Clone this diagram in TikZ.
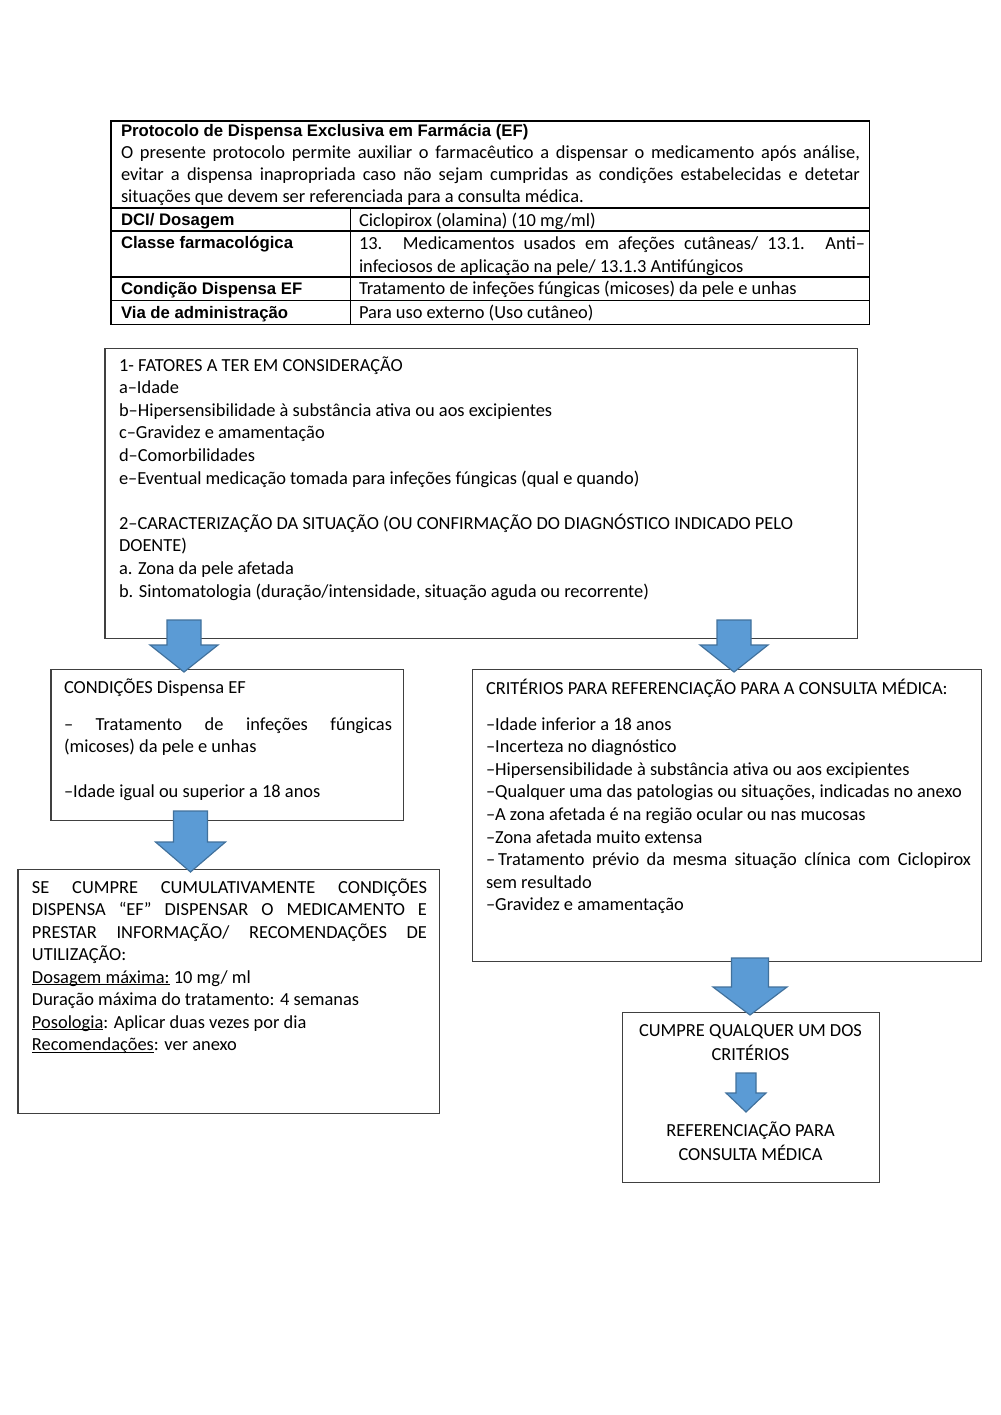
\documentclass[tikz,border=0pt]{standalone}
\usepackage{fontspec}
\setmainfont{Carlito}
\newfontfamily\arialfont{Liberation Sans}
\newlength\px \setlength\px{0.21mm}
\definecolor{arrowfill}{HTML}{5B9BD5}
\definecolor{arrowline}{HTML}{41719C}
\definecolor{boxline}{HTML}{404040}
\newcommand\J[1]{\makebox[\hsize][s]{#1}}
\newcommand\ulx[1]{\leavevmode\setbox0\hbox{#1}\rlap{\rule[-1.3pt]{\wd0}{0.45pt}}\box0\relax}
% width (px), baselineskip (px), content
\newcommand\tbox[3]{\vtop{\hsize=#1\px \parindent=0pt \raggedright
  \baselineskip=#2\px \lineskiplimit=-100pt \lineskip=0pt \parskip=0pt #3\par}}
\newcommand\tboxc[3]{\vtop{\hsize=#1\px \parindent=0pt \centering
  \baselineskip=#2\px \lineskiplimit=-100pt \lineskip=0pt \parskip=0pt #3\par}}
\newcommand\lab[1]{{\arialfont\bfseries\fontsize{10pt}{12pt}\selectfont #1}}
\newcommand\blockarrow[6]{% cx, top, half shaft, head y, half head, tip
  \filldraw[barrow] ({#1-#3},#2) -- ({#1+#3},#2) -- ({#1+#3},#4) -- ({#1+#5},#4)
    -- (#1,#6) -- ({#1-#5},#4) -- ({#1-#3},#4) -- cycle;}
\begin{document}
\begin{tikzpicture}[x=0.21mm,y=-0.21mm,
  box/.style={draw=boxline,line width=0.6pt},
  tabline/.style={draw=black,line width=0.6pt},
  barrow/.style={fill=arrowfill,draw=arrowline,line width=0.7pt,line join=miter},
  txt/.style={inner sep=0pt,outer sep=0pt,anchor=base west,
    font=\fontsize{11pt}{13.4pt}\selectfont}]
\useasboundingbox (0,0) rectangle (1000,1415);
\fill[white] (0,0) rectangle (1000,1415);

% ---------- table ----------
\coordinate (tNW) at (111,121);
\coordinate (tSE) at (869,324);
\draw[tabline] (tNW) rectangle (tSE);
\draw[tabline] (111,208) -- (869,208);
\draw[tabline] (111,231) -- (869,231);
\draw[tabline] (111,277) -- (869,277);
\draw[tabline] (111,300) -- (869,300);
\draw[tabline] (350,208) -- (350,324);

\node[txt] (thead) at (121,136.5) {\tbox{739}{22}{%
  \lab{Protocolo de Dispensa Exclusiva em Farmácia (EF)}\par
  \J{O presente protocolo permite auxiliar o farmacêutico a dispensar o medicamento após análise,}\par
  \J{evitar a dispensa inapropriada caso não sejam cumpridas as condições estabelecidas e detetar}\par
  situações que devem ser referenciada para a consulta médica.}};
\node[txt] (l1) at (121,225) {\lab{DCI/ Dosagem}};
\node[txt] (l2) at (121,248) {\lab{Classe farmacológica}};
\node[txt] (l3) at (121,294) {\lab{Condição Dispensa EF}};
\node[txt] (l4) at (121,318) {\lab{Via de administração}};
\node[txt] (r1) at (359,226) {Ciclopirox (olamina) (10 mg/ml)};
\node[txt] (r2) at (359,249) {\tbox{506}{23}{%
  \J{13. Medicamentos usados em afeções cutâneas/ 13.1. Anti–}\par
  infeciosos de aplicação na pele/ 13.1.3 Antifúngicos}};
\node[txt] (r3) at (359,294) {Tratamento de infeções fúngicas (micoses) da pele e unhas};
\node[txt] (r4) at (359,318) {Para uso externo (Uso cutâneo)};

% ---------- boxes ----------
\coordinate (fNW) at (105,348); \coordinate (fSE) at (857,638);
\draw[box] (fNW) rectangle (fSE);
\coordinate (cNW) at (51,669); \coordinate (cSE) at (403,820);
\draw[box] (cNW) rectangle (cSE);
\coordinate (sNW) at (18,869); \coordinate (sSE) at (439,1113);
\draw[box] (sNW) rectangle (sSE);
\coordinate (kNW) at (472,669); \coordinate (kSE) at (981,961);
\draw[box] (kNW) rectangle (kSE);
\coordinate (qNW) at (622,1012); \coordinate (qSE) at (879,1182);
\draw[box] (qNW) rectangle (qSE);

\node[txt] (ftxt) at (119,371) {\tbox{735}{22.6}{%
  1- FATORES A TER EM CONSIDERAÇÃO\par
  a–Idade\par
  b–Hipersensibilidade à substância ativa ou aos excipientes\par
  c–Gravidez e amamentação\par
  d–Comorbilidades\par
  e–Eventual medicação tomada para infeções fúngicas (qual e quando)\par
  \mbox{}\par
  2–CARACTERIZAÇÃO DA SITUAÇÃO (OU CONFIRMAÇÃO DO DIAGNÓSTICO INDICADO PELO\par
  DOENTE)\par
  a. Zona da pele afetada\par
  b. Sintomatologia (duração/intensidade, situação aguda ou recorrente)}};

\node[txt] (ctxt) at (64,693) {\tbox{328}{22.5}{%
  CONDIÇÕES Dispensa EF\par
  \vskip 14.5\px
  \J{–\ Tratamento de infeções fúngicas}\par
  (micoses) da pele e unhas\par
  \mbox{}\par
  –Idade igual ou superior a 18 anos}};

\node[txt] (stxt) at (32,893) {\tbox{395}{22.5}{%
  \J{SE CUMPRE CUMULATIVAMENTE CONDIÇÕES}\par
  \J{DISPENSA “EF” DISPENSAR O MEDICAMENTO E}\par
  \J{PRESTAR INFORMAÇÃO/ RECOMENDAÇÕES DE}\par
  UTILIZAÇÃO:\par
  \ulx{Dosagem máxima:} 10 mg/ ml\par
  Duração máxima do tratamento: 4 semanas\par
  \ulx{Posologia}: Aplicar duas vezes por dia\par
  \ulx{Recomendações}: ver anexo}};

\node[txt] (ktxt) at (486,694) {\tbox{485}{22.6}{%
  CRITÉRIOS PARA REFERENCIAÇÃO PARA A CONSULTA MÉDICA:\par
  \vskip 13.4\px
  –Idade inferior a 18 anos\par
  –Incerteza no diagnóstico\par
  –Hipersensibilidade à substância ativa ou aos excipientes\par
  –Qualquer uma das patologias ou situações, indicadas no anexo\par
  –A zona afetada é na região ocular ou nas mucosas\par
  –Zona afetada muito extensa\par
  \J{–\,Tratamento prévio da mesma situação clínica com Ciclopirox}\par
  sem resultado\par
  –Gravidez e amamentação}};

\node[txt,anchor=base] (q1) at (750.5,1036) {\tboxc{250}{24}{CUMPRE QUALQUER UM DOS\par CRITÉRIOS}};
\node[txt,anchor=base] (q2) at (750.5,1136) {\tboxc{250}{24}{REFERENCIAÇÃO PARA\par CONSULTA MÉDICA}};

% ---------- block arrows ----------
\blockarrow{184}{620}{17}{645}{34}{672}
\blockarrow{734}{620}{17}{645}{34}{672}
\blockarrow{190.5}{811}{17}{842}{35}{872}
\blockarrow{750}{958}{18.5}{987}{37}{1015}
\blockarrow{746}{1073}{10}{1093}{20}{1112}
\end{tikzpicture}
\end{document}
